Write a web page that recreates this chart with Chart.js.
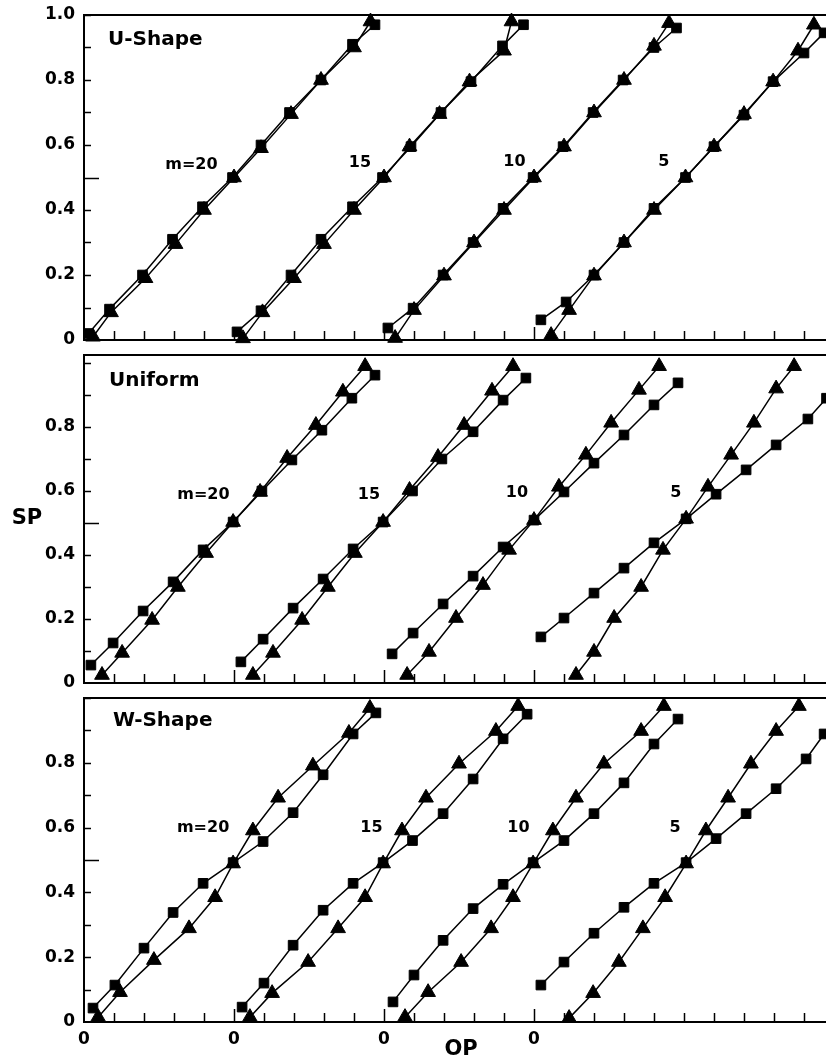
<!DOCTYPE html>
<html>
<head>
<meta charset="utf-8">
<script src="https://cdn.jsdelivr.net/npm/chart.js@4/dist/chart.umd.min.js"></script>
<style>
html,body{margin:0;padding:0;background:#fff;overflow:hidden;}
#wrap{position:relative;width:826px;height:1061px;overflow:hidden;background:#fff;}
#wrap canvas{position:absolute;left:0;}
</style>
</head>
<body>
<div id="wrap">
<canvas id="c1" width="900" height="347" style="top:0px"></canvas>
<canvas id="c2" width="900" height="345" style="top:347px"></canvas>
<canvas id="c3" width="900" height="369" style="top:692px"></canvas>
</div>
<script>
// ---------------- DATA (local OP, SP) ----------------
const groupLabels = ['m=20', '15', '10', '5'];
const groupOffsets = [0, 0.5, 1.0, 1.5];
const panelTitles = ['U-Shape', 'Uniform', 'W-Shape'];

// U-Shape
const u20_sq = [[0.015,0.02],[0.085,0.095],[0.195,0.2],[0.295,0.31],[0.395,0.41],[0.495,0.5],[0.59,0.6],[0.685,0.7],[0.79,0.8],[0.895,0.91],[0.97,0.97]];
const u20_tr = [[0.03,0.01],[0.09,0.085],[0.205,0.19],[0.305,0.295],[0.4,0.4],[0.5,0.5],[0.59,0.59],[0.69,0.695],[0.79,0.8],[0.9,0.9],[0.955,0.98]];
const u15_sq = [[0.01,0.025],[0.09,0.09],[0.19,0.2],[0.29,0.31],[0.395,0.41],[0.495,0.5],[0.59,0.595],[0.69,0.7],[0.79,0.795],[0.895,0.905],[0.965,0.97]];
const u15_tr = [[0.03,0.005],[0.095,0.085],[0.2,0.19],[0.3,0.295],[0.4,0.4],[0.5,0.5],[0.585,0.595],[0.685,0.695],[0.785,0.795],[0.9,0.89],[0.925,0.98]];
const u10_sq = [[0.013,0.037],[0.097,0.098],[0.197,0.2],[0.297,0.3],[0.397,0.405],[0.497,0.5],[0.597,0.595],[0.697,0.7],[0.797,0.8],[0.9,0.9],[0.975,0.96]];
const u10_tr = [[0.037,0.006],[0.1,0.092],[0.2,0.198],[0.3,0.3],[0.4,0.4],[0.5,0.5],[0.6,0.595],[0.7,0.7],[0.8,0.8],[0.9,0.905],[0.95,0.975]];
const u5_sq  = [[0.023,0.062],[0.107,0.117],[0.2,0.2],[0.3,0.3],[0.4,0.405],[0.505,0.5],[0.6,0.595],[0.7,0.692],[0.797,0.795],[0.9,0.883],[0.967,0.945]];
const u5_tr  = [[0.057,0.015],[0.117,0.092],[0.2,0.198],[0.3,0.3],[0.4,0.4],[0.505,0.5],[0.6,0.595],[0.7,0.695],[0.797,0.795],[0.88,0.89],[0.933,0.97]];

// Uniform
const n20_sq = [[0.023,0.056],[0.097,0.125],[0.197,0.225],[0.297,0.316],[0.397,0.416],[0.497,0.503],[0.593,0.6],[0.693,0.697],[0.793,0.79],[0.893,0.89],[0.97,0.962]];
const n20_tr = [[0.06,0.025],[0.127,0.094],[0.227,0.197],[0.313,0.3],[0.407,0.406],[0.497,0.503],[0.587,0.597],[0.677,0.703],[0.773,0.806],[0.863,0.91],[0.937,0.99]];
const n15_sq = [[0.023,0.066],[0.097,0.137],[0.197,0.234],[0.297,0.325],[0.397,0.419],[0.497,0.503],[0.595,0.6],[0.693,0.7],[0.797,0.785],[0.897,0.884],[0.973,0.953]];
const n15_tr = [[0.063,0.025],[0.13,0.094],[0.227,0.197],[0.313,0.3],[0.403,0.406],[0.497,0.503],[0.585,0.603],[0.68,0.706],[0.767,0.806],[0.86,0.913],[0.93,0.99]];
const n10_sq = [[0.027,0.091],[0.097,0.156],[0.197,0.247],[0.297,0.334],[0.397,0.425],[0.5,0.509],[0.6,0.597],[0.7,0.687],[0.8,0.775],[0.9,0.869],[0.98,0.938]];
const n10_tr = [[0.077,0.025],[0.15,0.097],[0.24,0.203],[0.33,0.306],[0.417,0.416],[0.5,0.509],[0.583,0.613],[0.673,0.713],[0.757,0.813],[0.85,0.916],[0.917,0.99]];
const n5_sq  = [[0.023,0.144],[0.1,0.203],[0.2,0.281],[0.3,0.359],[0.4,0.438],[0.507,0.513],[0.607,0.59],[0.707,0.666],[0.807,0.744],[0.913,0.825],[0.975,0.89]];
const n5_tr  = [[0.14,0.025],[0.2,0.097],[0.267,0.203],[0.357,0.3],[0.43,0.416],[0.507,0.513],[0.58,0.613],[0.657,0.713],[0.733,0.813],[0.807,0.92],[0.867,0.99]];

// W-Shape
const w20_sq = [[0.03,0.043],[0.103,0.114],[0.2,0.228],[0.297,0.338],[0.397,0.428],[0.497,0.492],[0.597,0.557],[0.697,0.646],[0.797,0.763],[0.897,0.889],[0.973,0.954]];
const w20_tr = [[0.047,0.015],[0.12,0.092],[0.233,0.191],[0.35,0.289],[0.437,0.385],[0.497,0.489],[0.563,0.591],[0.647,0.692],[0.763,0.791],[0.883,0.892],[0.953,0.969]];
const w15_sq = [[0.027,0.046],[0.1,0.12],[0.197,0.237],[0.297,0.345],[0.397,0.428],[0.497,0.492],[0.595,0.56],[0.697,0.643],[0.797,0.75],[0.897,0.874],[0.977,0.95]];
const w15_tr = [[0.053,0.015],[0.127,0.089],[0.247,0.185],[0.347,0.289],[0.437,0.385],[0.497,0.489],[0.56,0.591],[0.64,0.692],[0.75,0.797],[0.873,0.898],[0.947,0.975]];
const w10_sq = [[0.03,0.062],[0.1,0.145],[0.197,0.252],[0.297,0.35],[0.397,0.425],[0.497,0.492],[0.6,0.56],[0.7,0.643],[0.8,0.738],[0.9,0.858],[0.98,0.935]];
const w10_tr = [[0.07,0.015],[0.147,0.092],[0.257,0.185],[0.357,0.289],[0.43,0.385],[0.497,0.489],[0.563,0.591],[0.64,0.692],[0.733,0.797],[0.857,0.898],[0.933,0.975]];
const w5_sq  = [[0.023,0.114],[0.1,0.185],[0.2,0.274],[0.3,0.354],[0.4,0.428],[0.507,0.492],[0.607,0.566],[0.707,0.643],[0.807,0.72],[0.907,0.812],[0.967,0.889]];
const w5_tr  = [[0.117,0.012],[0.197,0.089],[0.283,0.185],[0.363,0.289],[0.437,0.385],[0.507,0.489],[0.573,0.591],[0.647,0.692],[0.723,0.797],[0.807,0.898],[0.883,0.975]];

// ---------------- RENDERING ----------------
const FONT = '"DejaVu Sans", "Liberation Sans", Arial, sans-serif';
const X_MAX = 2.72;
const TICK_STEP = 0.1;

function decorPlugin(cfg) {
  return {
    id: 'decor_' + cfg.key,
    afterDraw(chart) {
      const ctx = chart.ctx, a = chart.chartArea;
      const xs = chart.scales.x, ys = chart.scales.y;
      ctx.save();
      ctx.strokeStyle = '#000';
      ctx.lineCap = 'butt';
      // top frame line
      ctx.lineWidth = 2;
      ctx.beginPath();
      ctx.moveTo(a.left - 1, a.top);
      ctx.lineTo(a.right, a.top);
      ctx.stroke();
      // inward y ticks (every 0.1, longer at 0.5)
      ctx.lineWidth = 1.5;
      const nY = Math.floor(ys.max / TICK_STEP + 1e-6);
      for (let k = 1; k <= nY; k++) {
        const py = Math.round(ys.getPixelForValue(k * TICK_STEP)) + 0.5;
        const len = (k === 5) ? 15 : 7;
        ctx.beginPath();
        ctx.moveTo(a.left, py);
        ctx.lineTo(a.left + len, py);
        ctx.stroke();
      }
      // inward x ticks (every 0.1, longer at group origins)
      const nX = Math.floor(xs.max / TICK_STEP + 1e-6);
      for (let k = 1; k <= nX; k++) {
        const px = Math.round(xs.getPixelForValue(k * TICK_STEP)) + 0.5;
        const len = (k % 5 === 0 && k < 20) ? 13 : 9;
        ctx.beginPath();
        ctx.moveTo(px, a.bottom);
        ctx.lineTo(px, a.bottom - len);
        ctx.stroke();
      }
      // texts
      ctx.fillStyle = '#000';
      ctx.textBaseline = 'middle';
      ctx.textAlign = 'left';
      ctx.font = 'bold 20px ' + FONT;
      ctx.fillText(cfg.title, a.left + cfg.titleDx, a.top + cfg.titleDy);
      ctx.textAlign = 'center';
      ctx.font = 'bold 16px ' + FONT;
      groupLabels.forEach((lab, i) => {
        const p = cfg.labelPos[i];
        ctx.fillText(lab, xs.getPixelForValue(p[0]), ys.getPixelForValue(p[1]));
      });
      if (cfg.showSP) {
        ctx.font = 'bold 21px ' + FONT;
        ctx.fillText('SP', 27, (a.top + a.bottom) / 2);
      }
      if (cfg.showOP) {
        ctx.font = 'bold 21px ' + FONT;
        ctx.fillText('OP', a.left + 377, a.bottom + 28);
      }
      ctx.restore();
    }
  };
}

function buildDatasets(groups) {
  const ds = [];
  groups.forEach((g, i) => {
    const off = groupOffsets[i];
    ds.push({
      label: groupLabels[i] + ' tri',
      data: g.tr.map(p => ({ x: off + p[0], y: p[1] })),
      showLine: true, borderColor: '#000', borderWidth: 1.5,
      pointStyle: 'triangle', pointRadius: 8.5, pointBackgroundColor: '#000',
      pointBorderColor: '#000', pointBorderWidth: 1, clip: false
    });
    ds.push({
      label: groupLabels[i] + ' sq',
      data: g.sq.map(p => ({ x: off + p[0], y: p[1] })),
      showLine: true, borderColor: '#000', borderWidth: 1.5,
      pointStyle: 'rect', pointRadius: 6.8, pointBackgroundColor: '#000',
      pointBorderColor: '#000', pointBorderWidth: 1, clip: false
    });
  });
  return ds;
}

function makePanel(id, groups, cfg) {
  const yLabel = v => {
    const k = Math.round(v * 10);
    if (k === 0) return '0';
    if (k % 2 === 0 && (k < 10 || cfg.showTop)) return (k / 10).toFixed(1);
    return '';
  };
  const xLabel = v => {
    const k = Math.round(v * 10);
    return (k % 5 === 0 && k < 20) ? '0' : '';
  };
  return new Chart(document.getElementById(id), {
    type: 'scatter',
    data: { datasets: buildDatasets(groups) },
    options: {
      responsive: false,
      animation: false,
      devicePixelRatio: 1,
      layout: { autoPadding: false, padding: { left: 0, right: 0, top: cfg.padTop, bottom: 0 } },
      plugins: { legend: { display: false }, tooltip: { enabled: false } },
      scales: {
        x: {
          type: 'linear', position: 'bottom', min: 0, max: X_MAX,
          afterFit(s) { s.height = cfg.xHeight; s.paddingLeft = 0; s.paddingRight = 0; },
          border: { display: true, color: '#000', width: 2 },
          grid: { display: true, drawOnChartArea: false, drawTicks: false, color: 'rgba(0,0,0,0)' },
          ticks: {
            display: cfg.showX, stepSize: TICK_STEP, includeBounds: false, autoSkip: false,
            maxRotation: 0, minRotation: 0, padding: 7, color: '#000',
            font: { family: FONT, size: 17, weight: 'bold' }, callback: xLabel
          }
        },
        y: {
          type: 'linear', position: 'left', min: 0, max: cfg.yMax,
          afterFit(s) { s.width = 84; s.paddingTop = 0; s.paddingBottom = 0; },
          border: { display: true, color: '#000', width: 2 },
          grid: { display: true, drawOnChartArea: false, drawTicks: false, color: 'rgba(0,0,0,0)' },
          ticks: {
            stepSize: TICK_STEP, includeBounds: false, autoSkip: false, padding: 9, color: '#000',
            font: { family: FONT, size: 17, weight: 'bold' }, callback: yLabel
          }
        }
      }
    },
    plugins: [decorPlugin(cfg)]
  });
}

makePanel('c1', [
  { sq: u20_sq, tr: u20_tr }, { sq: u15_sq, tr: u15_tr },
  { sq: u10_sq, tr: u10_tr }, { sq: u5_sq, tr: u5_tr }
], {
  key: 'u', title: panelTitles[0], padTop: 15, xHeight: 7, yMax: 1.0, showTop: true, showX: false,
  titleDx: 24, titleDy: 25,
  labelPos: [[0.358, 0.538], [0.92, 0.545], [1.435, 0.548], [1.933, 0.548]]
});

makePanel('c2', [
  { sq: n20_sq, tr: n20_tr }, { sq: n15_sq, tr: n15_tr },
  { sq: n10_sq, tr: n10_tr }, { sq: n5_sq, tr: n5_tr }
], {
  key: 'n', title: panelTitles[1], padTop: 8, xHeight: 9, yMax: 1.025, showTop: false, showX: false,
  titleDx: 25, titleDy: 26, showSP: true,
  labelPos: [[0.398, 0.5875], [0.95, 0.5875], [1.443, 0.594], [1.973, 0.594]]
});

makePanel('c3', [
  { sq: w20_sq, tr: w20_tr }, { sq: w15_sq, tr: w15_tr },
  { sq: w10_sq, tr: w10_tr }, { sq: w5_sq, tr: w5_tr }
], {
  key: 'w', title: panelTitles[2], padTop: 6, xHeight: 39, yMax: 1.0, showTop: false, showX: true,
  titleDx: 29, titleDy: 23, showOP: true,
  labelPos: [[0.397, 0.599], [0.958, 0.599], [1.448, 0.599], [1.97, 0.599]]
});
</script>
</body>
</html>
